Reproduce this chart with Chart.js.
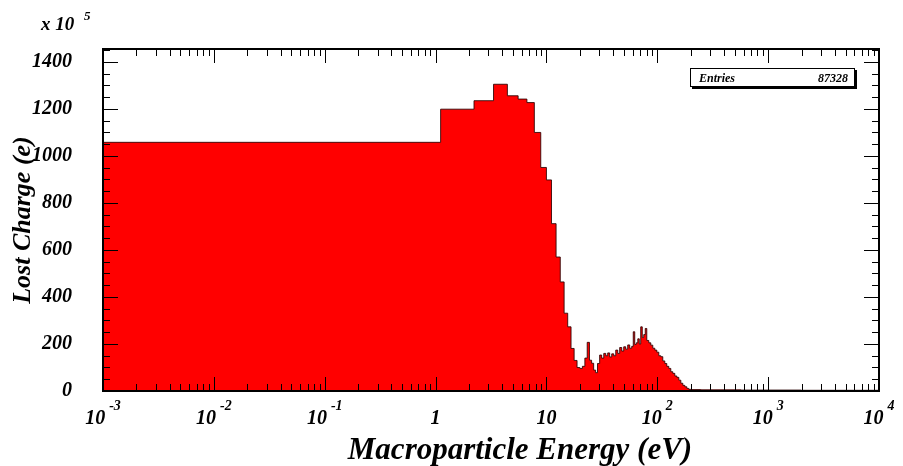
<!DOCTYPE html>
<html lang="en">
<head>
<meta charset="UTF-8">
<title>Lost Charge vs Macroparticle Energy</title>
<script src="https://cdn.jsdelivr.net/npm/chart.js"></script>
<style>
  html, body { margin: 0; padding: 0; background: #fff; }
  canvas { display: block; }
</style>
</head>
<body>
<canvas id="lostChart" width="903" height="466"></canvas>
<script>
// lower edge of each bin (eV); the first bin really starts at 0, so it is drawn from the axis minimum
const binLow = [
  0.001, 1.111, 2.222, 3.333, 4.444, 5.556, 6.667, 7.778, 8.889, 10.0,
  11.11, 12.22, 13.33, 14.44, 15.56, 16.67, 17.78, 18.89, 20.0, 21.11,
  22.22, 23.33, 24.44, 25.56, 26.67, 27.78, 28.89,
  30.2, 31.5, 32.9, 34.3, 35.7, 37.2, 38.8, 40.5, 42.2, 44.0,
  45.8, 47.8, 49.8, 51.9, 54.1, 56.4, 58.8, 60.7, 62.6, 64.6,
  66.7, 68.8, 70.9, 73.2, 75.5, 77.9, 80.4, 83.8, 87.4, 91.1,
  95.0, 99.0, 103.2, 107.5, 112.1, 116.9, 121.8, 127.0, 132.4, 138.0,
  143.9, 150.1, 156.4, 163.1, 170.0, 177.2, 184.8, 192.6, 200.7, 247,
  568, 1978
];
const binTop = 1e4;

// lost charge per bin, in units of 10^5 e
const lostCharge = [
  1058, 1199, 1235, 1305, 1256, 1242, 1227, 1100, 951, 898,
  712, 570, 464, 331, 273, 181, 130, 100, 96, 105,
  140, 207, 131, 118, 89, 78, 117,
  153, 140, 160, 150, 162, 145, 158, 150, 174, 160,
  185, 170, 188, 178, 196, 182, 190, 252, 198, 205,
  222, 200, 273, 228, 240, 266, 215, 205, 195, 182,
  174, 165, 150, 146, 128, 117, 105, 96, 82, 75,
  64, 58, 46, 33, 24, 18, 11, 7, 6, 5,
  4, 3
];

const xTickValues = [1e-3, 1e-2, 1e-1, 1, 10, 100, 1000, 10000];
const xTickBase = ['10', '10', '10', '1', '10', '10', '10', '10'];
const xTickExp = ['-3', '-2', '-1', '', '', '2', '3', '4'];
const yTickValues = [0, 200, 400, 600, 800, 1000, 1200, 1400];
const yMinorStep = 50;
const yMax = 1455;
const entries = '87328';

const serif = '"Liberation Serif", "Times New Roman", serif';

// ROOT-like frame, inward ticks, labels with exponents and the stats box
const rootAxes = {
  id: 'rootAxes',
  afterDatasetsDraw(chart) {
    const { ctx, chartArea: a, scales: { x, y } } = chart;
    ctx.save();
    ctx.strokeStyle = '#000';
    ctx.lineWidth = 1;
    ctx.beginPath();
    for (let d = -3; d < 4; d++) {
      for (let k = 1; k < 10; k++) {
        const px = Math.round(x.getPixelForValue(k * Math.pow(10, d))) + 0.5;
        const len = k === 1 ? 14 : 7;
        ctx.moveTo(px, a.bottom); ctx.lineTo(px, a.bottom - len);
        ctx.moveTo(px, a.top); ctx.lineTo(px, a.top + len);
      }
    }
    for (let v = 0; v <= yMax; v += yMinorStep) {
      const py = Math.round(y.getPixelForValue(v)) + 0.5;
      const len = v % 200 === 0 ? 15 : 7;
      ctx.moveTo(a.left, py); ctx.lineTo(a.left + len, py);
      ctx.moveTo(a.right, py); ctx.lineTo(a.right - len, py);
    }
    ctx.stroke();
    ctx.lineWidth = 2;
    ctx.strokeRect(a.left, a.top, a.right - a.left, a.bottom - a.top);
    ctx.restore();
  },
  afterDraw(chart) {
    const { ctx, scales: { x } } = chart;
    ctx.save();
    ctx.fillStyle = '#000';
    ctx.textBaseline = 'alphabetic';
    ctx.textAlign = 'left';

    // x tick labels, 10 with a raised exponent
    xTickValues.forEach((v, i) => {
      const px = x.getPixelForValue(v);
      ctx.font = `italic bold 20px ${serif}`;
      const wb = ctx.measureText(xTickBase[i]).width;
      ctx.font = `italic bold 14px ${serif}`;
      const we = xTickExp[i] ? ctx.measureText(xTickExp[i]).width + 4 : 0;
      const start = px - (wb + we) / 2;
      ctx.font = `italic bold 20px ${serif}`;
      ctx.fillText(xTickBase[i], start, 424);
      if (xTickExp[i]) {
        ctx.font = `italic bold 14px ${serif}`;
        ctx.fillText(xTickExp[i], start + wb + 4, 410);
      }
    });

    // axis multiplier
    ctx.font = `italic bold 19px ${serif}`;
    ctx.fillText('x 10', 41, 30);
    ctx.font = `italic bold 13px ${serif}`;
    ctx.fillText('5', 84, 20);

    // x axis title
    ctx.font = `italic bold 31px ${serif}`;
    ctx.textAlign = 'center';
    ctx.fillText('Macroparticle Energy (eV)', 520, 459);

    // stats box
    ctx.fillStyle = '#000';
    ctx.fillRect(692, 70, 165, 19);
    ctx.fillStyle = '#fff';
    ctx.fillRect(690, 68, 164, 18);
    ctx.strokeStyle = '#000';
    ctx.lineWidth = 1;
    ctx.strokeRect(690.5, 68.5, 164, 18);
    ctx.fillStyle = '#000';
    ctx.font = `italic bold 12px ${serif}`;
    ctx.textAlign = 'left';
    ctx.fillText('Entries', 699, 82);
    ctx.textAlign = 'right';
    ctx.fillText(entries, 848, 82);
    ctx.restore();
  }
};

const points = binLow.map((e, i) => ({ x: e, y: lostCharge[i] }));
points.push({ x: binTop, y: lostCharge[lostCharge.length - 1] });

new Chart(document.getElementById('lostChart'), {
  type: 'line',
  data: {
    datasets: [{
      data: points,
      stepped: 'before',
      fill: 'origin',
      backgroundColor: '#ff0000',
      borderColor: 'rgba(40,0,0,0.85)',
      borderWidth: 1,
      pointRadius: 0,
      tension: 0
    }]
  },
  options: {
    responsive: false,
    animation: false,
    layout: { padding: { top: 49, right: 24, bottom: 0, left: 0 } },
    plugins: { legend: { display: false }, tooltip: { enabled: false } },
    scales: {
      x: {
        type: 'logarithmic',
        min: 1e-3,
        max: 1e4,
        grid: { display: false },
        border: { display: false },
        ticks: { display: false },
        afterBuildTicks: (s) => { s.ticks = xTickValues.map(v => ({ value: v })); },
        afterFit: (s) => { s.height = 75; }
      },
      y: {
        min: 0,
        max: yMax,
        grid: { display: false },
        border: { display: false },
        afterBuildTicks: (s) => { s.ticks = yTickValues.map(v => ({ value: v })); },
        afterFit: (s) => { s.width = 103; },
        ticks: {
          color: '#000',
          padding: 23,
          font: { family: serif, size: 20, style: 'italic', weight: 'bold' },
          callback: (v) => String(v)
        },
        title: {
          display: true,
          text: 'Lost Charge (e)',
          color: '#000',
          padding: { top: 8, bottom: 0 },
          font: { family: serif, size: 26, style: 'italic', weight: 'bold' }
        }
      }
    }
  },
  plugins: [rootAxes]
});
</script>
</body>
</html>
